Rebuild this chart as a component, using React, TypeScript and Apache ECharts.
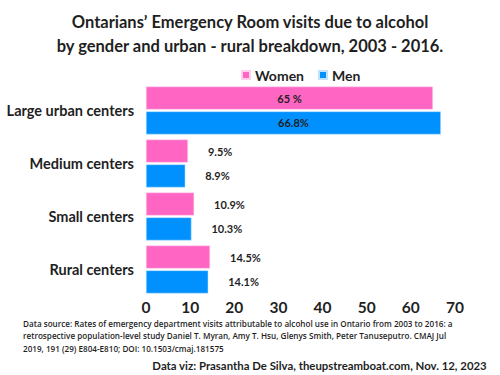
import React, { useEffect, useRef } from "react";
import * as echarts from "echarts";

const categories = ["Large urban centers", "Medium centers", "Small centers", "Rural centers"];
const women = [65, 9.5, 10.9, 14.5];
const men = [66.8, 8.9, 10.3, 14.1];
const womenLabels = ["65 %", "9.5%", "10.9%", "14.5%"];
const menLabels = ["66.8%", "8.9%", "10.3%", "14.1%"];
const xTicks = [0, 10, 20, 30, 40, 50, 60, 70];

const FONT = "Lato, 'Open Sans', sans-serif";
const FONT2 = "'Open Sans', 'Noto Sans', sans-serif";
const PINK = "#FF66C4";
const BLUE = "#0091FF";
const DARK = "#1f1f1f";

export default function App() {
  const ref = useRef<HTMLDivElement>(null);
  useEffect(() => {
    if (!ref.current) return;
    const chart = echarts.init(ref.current, undefined, { renderer: "svg" });
    const mkData = (vals: number[], labels: string[]) =>
      vals.map((v, i) => ({
        value: v,
        label: i === 0
          ? { show: true, position: "inside", formatter: labels[i] }
          : { show: true, position: "right", distance: 20, formatter: labels[i] },
      }));
    chart.setOption({
      animation: false,
      textStyle: { fontFamily: FONT },
      title: {
        text: "Ontarians\u2019 Emergency Room visits due to alcohol\nby gender and urban - rural breakdown, 2003 - 2016.",
        left: 245,
        textAlign: "center",
        top: 5,
        textStyle: { fontFamily: FONT, fontWeight: "bold", fontSize: 16.5, lineHeight: 24, color: DARK },
      },
      legend: {
        data: ["Women", "Men"],
        left: 236,
        top: 63,
        itemWidth: 8,
        itemHeight: 8,
        itemGap: 14,
        icon: "rect",
        textStyle: { fontFamily: FONT, fontWeight: "bold", fontSize: 14, color: DARK },
      },
      grid: { left: 146, right: 45, top: 84, bottom: 79, containLabel: false, outerBoundsMode: "none" },
      xAxis: {
        type: "value",
        min: 0,
        max: 70,
        interval: 10,
        axisLine: { show: false },
        axisTick: { show: false },
        splitLine: { show: false },
        axisLabel: {
          margin: 3,
          fontFamily: FONT,
          fontWeight: "bold",
          fontSize: 15.5,
          color: DARK,
          formatter: (v: number) => (xTicks.includes(v) ? String(v) : ""),
        },
      },
      yAxis: {
        type: "category",
        data: categories,
        inverse: true,
        axisLine: { show: false },
        axisTick: { show: false },
        axisLabel: { margin: 12, fontFamily: FONT, fontWeight: "bold", fontSize: 14.5, color: DARK },
      },
      series: [
        {
          name: "Women",
          type: "bar",
          data: mkData(women, womenLabels),
          itemStyle: { color: PINK, borderColor: "#ffd0ec", borderWidth: 0.5 },
          barWidth: 23,
          barGap: "8%",
          label: { fontFamily: FONT, fontWeight: "bold", fontSize: 11, color: DARK },
        },
        {
          name: "Men",
          type: "bar",
          data: mkData(men, menLabels),
          itemStyle: { color: BLUE, borderColor: "#bfe2ff", borderWidth: 0.5 },
          barWidth: 23,
          label: { fontFamily: FONT, fontWeight: "bold", fontSize: 11, color: DARK },
        },
      ],
      graphic: [
        {
          type: "text",
          left: 23,
          top: 317,
          style: {
            text:
              "Data source: Rates of emergency department visits attributable to alcohol use in Ontario from 2003 to 2016: a\nretrospective population-level study Daniel T. Myran, Amy T. Hsu, Glenys Smith, Peter Tanuseputro. CMAJ Jul\n2019, 191 (29) E804-E810; DOI: 10.1503/cmaj.181575",
            font: `600 8.15px ${FONT2}`,
            lineHeight: 12.5,
            fill: DARK,
          },
        },
        {
          type: "text",
          right: 13,
          top: 360,
          style: {
            text: "Data viz: Prasantha De Silva, theupstreamboat.com, Nov. 12, 2023",
            font: `bold 11.4px ${FONT}`,
            fill: DARK,
          },
        },
      ],
    });
    return () => chart.dispose();
  }, []);
  return <div ref={ref} style={{ width: 500, height: 375, position: "absolute", left: 0, top: 0 }} />;
}
